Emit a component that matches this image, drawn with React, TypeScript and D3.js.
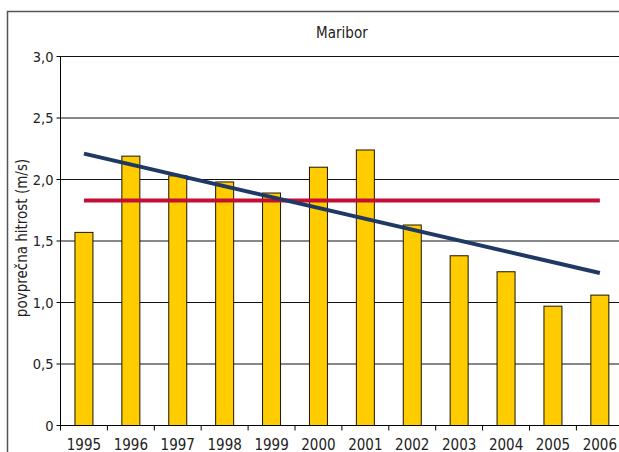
import React from "react";
import * as d3 from "d3";

// Annual mean wind speed, Maribor
const years = ["1995", "1996", "1997", "1998", "1999", "2000", "2001", "2002", "2003", "2004", "2005", "2006"];
const speeds = [1.57, 2.19, 2.03, 1.98, 1.89, 2.1, 2.24, 1.63, 1.38, 1.25, 0.97, 1.06];
const longTermMean = [1.83, 1.83]; // reference level, first to last year
const trend = [2.21, 1.24]; // linear trend, first to last year
const yTicks = [0, 0.5, 1, 1.5, 2, 2.5, 3];
const yTickLabels = ["0", "0,5", "1,0", "1,5", "2,0", "2,5", "3,0"];

const W = 619;
const H = 452;
const FONT = "'DejaVu Sans Condensed', 'Liberation Sans Narrow', sans-serif";

export default function App() {
  const left = 60.5;
  const bandW = 46.9;
  const x = d3
    .scaleBand<string>()
    .domain(years)
    .range([left, left + bandW * years.length])
    .paddingInner(0)
    .paddingOuter(0);
  const y = d3.scaleLinear().domain([0, 3]).range([425.5, 56.5]);
  const barW = 18;
  const cx = (yr: string) => (x(yr) as number) + x.bandwidth() / 2;
  const right = x.range()[1];

  const lineGen = d3
    .line<[string, number]>()
    .x((d) => cx(d[0]))
    .y((d) => y(d[1]));
  const ends = [years[0], years[years.length - 1]];

  return (
    <svg
      width={W}
      height={H}
      style={{ position: "absolute", left: 0, top: 0, background: "#fff" }}
      fontFamily={FONT}
    >
      {/* chart frame */}
      <rect x={7.5} y={11.5} width={W + 20} height={H + 20} fill="none" stroke="#555" strokeWidth={1.5} />

      <text x={(left + right) / 2} y={38} textAnchor="middle" fontSize={15} fill="#222">
        Maribor
      </text>

      {/* gridlines */}
      {yTicks.map((t) => (
        <line key={t} x1={left} x2={right} y1={y(t)} y2={y(t)} stroke="#111" strokeWidth={1} />
      ))}

      {/* bars */}
      {years.map((yr, i) => (
        <rect
          key={yr}
          x={cx(yr) - barW / 2}
          y={y(speeds[i])}
          width={barW}
          height={y(0) - y(speeds[i])}
          fill="#FFCC00"
          stroke="#1a1400"
          strokeWidth={1}
        />
      ))}

      {/* long-term mean */}
      <path
        d={lineGen(ends.map((e, i) => [e, longTermMean[i]]) as [string, number][]) || ""}
        stroke="#C40F35"
        strokeWidth={4}
        fill="none"
      />
      {/* trend */}
      <path
        d={lineGen(ends.map((e, i) => [e, trend[i]]) as [string, number][]) || ""}
        stroke="#1F3864"
        strokeWidth={4}
        fill="none"
      />

      {/* y axis */}
      <line x1={left} x2={left} y1={y(3)} y2={y(0)} stroke="#000" strokeWidth={1} />
      {yTicks.map((t, i) => (
        <g key={t}>
          <line x1={left - 4} x2={left} y1={y(t)} y2={y(t)} stroke="#000" />
          <text x={left - 7} y={y(t) + 5} textAnchor="end" fontSize={14.5} fill="#222">
            {yTickLabels[i]}
          </text>
        </g>
      ))}

      {/* x axis */}
      <line x1={left} x2={right} y1={y(0)} y2={y(0)} stroke="#000" />
      {years.map((yr) => (
        <line
          key={"t" + yr}
          x1={(x(yr) as number) + x.bandwidth()}
          x2={(x(yr) as number) + x.bandwidth()}
          y1={y(0)}
          y2={y(0) + 5}
          stroke="#000"
        />
      ))}
      <line x1={left} x2={left} y1={y(0)} y2={y(0) + 5} stroke="#000" />
      {years.map((yr) => (
        <text key={"l" + yr} x={cx(yr)} y={449.5} textAnchor="middle" fontSize={15} fill="#222">
          {yr}
        </text>
      ))}

      <text
        transform={`translate(27, ${(y(0) + y(3)) / 2 - 3}) rotate(-90)`}
        textAnchor="middle"
        fontSize={15}
        fill="#222"
      >
        povprečna hitrost (m/s)
      </text>
    </svg>
  );
}
